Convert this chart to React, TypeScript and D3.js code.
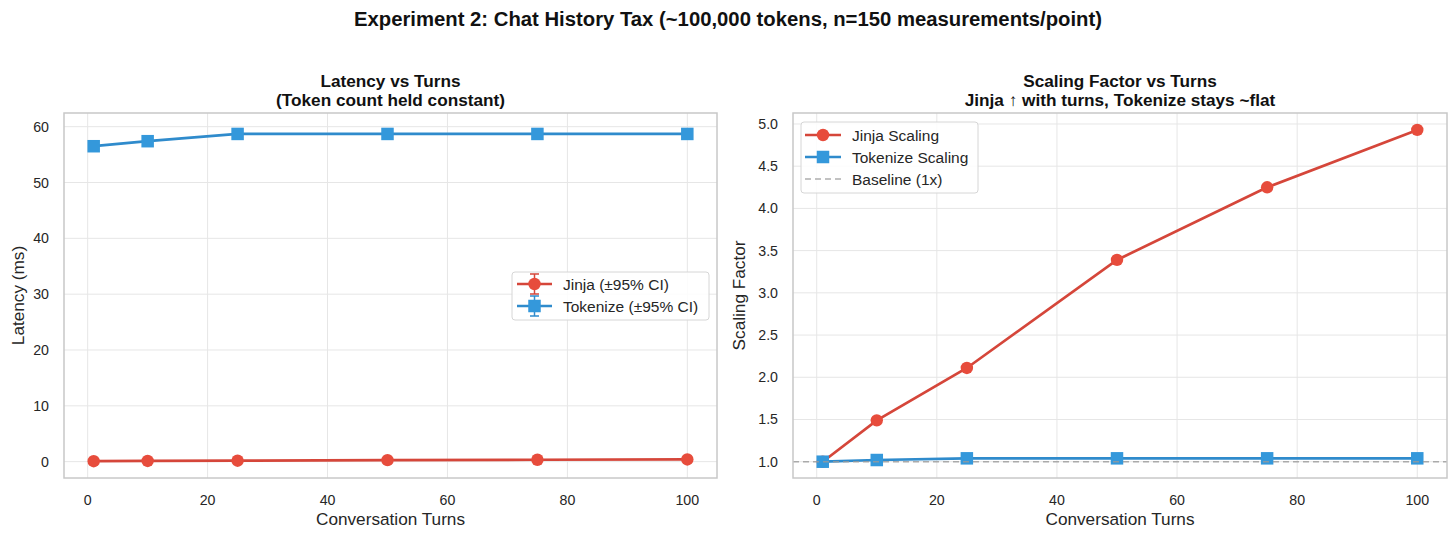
import React from "react";
import { scaleLinear, line } from "d3";

const turns = [1, 10, 25, 50, 75, 100];
const jinjaLatency = [0.08, 0.12, 0.17, 0.27, 0.34, 0.39];
const jinjaCI = [0.01, 0.01, 0.01, 0.02, 0.02, 0.02];
const tokenizeLatency = [56.5, 57.4, 58.7, 58.7, 58.7, 58.7];
const tokenizeCI = [0.3, 0.3, 0.3, 0.3, 0.3, 0.3];
const jinjaScaling = [1.0, 1.49, 2.11, 3.39, 4.25, 4.93];
const tokenizeScaling = [1.0, 1.02, 1.04, 1.04, 1.04, 1.04];

const xTicks = [0, 20, 40, 60, 80, 100];
const latencyTicks = [0, 10, 20, 30, 40, 50, 60];
const scalingTicks = [1.0, 1.5, 2.0, 2.5, 3.0, 3.5, 4.0, 4.5, 5.0];

const RED = "#e74c3c";
const RED_LINE = "#d5463a";
const BLUE = "#3498db";
const BLUE_LINE = "#2f8bcc";
const FONT = "'Liberation Sans', Arial, Helvetica, sans-serif";
const TXT = "#262626";

const W = 1456;
const H = 538;
const top = 113;
const bottom = 478;
const LEG_FS = 15.5;

const Circle = ({ cx, cy, r = 6.2 }: { cx: number; cy: number; r?: number }) => (
  <circle cx={cx} cy={cy} r={r} fill={RED} />
);
const Square = ({ cx, cy, s = 12.5 }: { cx: number; cy: number; s?: number }) => (
  <rect x={cx - s / 2} y={cy - s / 2} width={s} height={s} fill={BLUE} />
);

interface PanelProps {
  left: number;
  right: number;
  yDomain: [number, number];
  yTicks: number[];
  yFmt: (v: number) => string;
  yLabel: string;
  yLabelX: number;
  title: [string, string];
  children: (x: any, y: any) => React.ReactNode;
}

const Panel: React.FC<PanelProps> = ({ left, right, yDomain, yTicks, yFmt, yLabel, yLabelX, title, children }) => {
  const x = scaleLinear().domain([-3.95, 104.95]).range([left, right]);
  const y = scaleLinear().domain(yDomain).range([bottom, top]);
  const cx = (left + right) / 2;
  return (
    <g>
      <text x={cx} y={87} textAnchor="middle" fontSize={17.2} fontWeight="bold" fill="#111" fontFamily={FONT}>
        {title[0]}
      </text>
      <text x={cx} y={105.5} textAnchor="middle" fontSize={17.2} fontWeight="bold" fill="#111" fontFamily={FONT}>
        {title[1]}
      </text>
      <rect x={left} y={top} width={right - left} height={bottom - top} fill="#fff" />
      {xTicks.map((t) => (
        <line key={"gx" + t} x1={x(t)} x2={x(t)} y1={top} y2={bottom} stroke="#e6e6e6" strokeWidth={1} />
      ))}
      {yTicks.map((t) => (
        <line key={"gy" + t} x1={left} x2={right} y1={y(t)} y2={y(t)} stroke="#e6e6e6" strokeWidth={1} />
      ))}
      {children(x, y)}
      <rect x={left} y={top} width={right - left} height={bottom - top} fill="none" stroke="#c8c8c8" strokeWidth={1.5} />
      {xTicks.map((t) => (
        <text key={"tx" + t} x={x(t)} y={504.5} textAnchor="middle" fontSize={14.2} fill={TXT} fontFamily={FONT}>
          {t}
        </text>
      ))}
      {yTicks.map((t) => (
        <text key={"ty" + t} x={left - 15} y={y(t) + 5} textAnchor="end" fontSize={14.2} fill={TXT} fontFamily={FONT}>
          {yFmt(t)}
        </text>
      ))}
      <text x={cx} y={524.5} textAnchor="middle" fontSize={17.2} fill={TXT} fontFamily={FONT}>
        Conversation Turns
      </text>
      <text
        transform={`translate(${yLabelX},${(top + bottom) / 2}) rotate(-90)`}
        textAnchor="middle"
        fontSize={17.2}
        fill={TXT}
        fontFamily={FONT}
      >
        {yLabel}
      </text>
    </g>
  );
};

const ErrBars = ({ x, y, vals, ci, color }: any) => (
  <g>
    {turns.map((t, i) => (
      <g key={i} stroke={color} strokeWidth={1.5}>
        <line x1={x(t)} x2={x(t)} y1={y(vals[i] - ci[i])} y2={y(vals[i] + ci[i])} />
        <line x1={x(t) - 4} x2={x(t) + 4} y1={y(vals[i] - ci[i])} y2={y(vals[i] - ci[i])} />
        <line x1={x(t) - 4} x2={x(t) + 4} y1={y(vals[i] + ci[i])} y2={y(vals[i] + ci[i])} />
      </g>
    ))}
  </g>
);

const App: React.FC = () => {
  const path = (x: any, y: any, vals: number[]) =>
    line<number>()
      .x((_, i) => x(turns[i]))
      .y((d) => y(d))(vals) || "";

  return (
    <svg width={W} height={H} style={{ position: "absolute", left: 0, top: 0, background: "#fff" }}>
      <text x={728} y={26} textAnchor="middle" fontSize={20.3} fontWeight="bold" fill="#111" fontFamily={FONT}>
        Experiment 2: Chat History Tax (~100,000 tokens, n=150 measurements/point)
      </text>

      <Panel
        left={64}
        right={717}
        yDomain={[-2.93, 62.45]}
        yTicks={latencyTicks}
        yFmt={(v) => String(v)}
        yLabel="Latency (ms)"
        yLabelX={24}
        title={["Latency vs Turns", "(Token count held constant)"]}
      >
        {(x, y) => (
          <g>
            <ErrBars x={x} y={y} vals={jinjaLatency} ci={jinjaCI} color={RED_LINE} />
            <path d={path(x, y, jinjaLatency)} fill="none" stroke={RED_LINE} strokeWidth={2.7} />
            {turns.map((t, i) => (
              <Circle key={i} cx={x(t)} cy={y(jinjaLatency[i])} />
            ))}
            <ErrBars x={x} y={y} vals={tokenizeLatency} ci={tokenizeCI} color={BLUE_LINE} />
            <path d={path(x, y, tokenizeLatency)} fill="none" stroke={BLUE_LINE} strokeWidth={2.7} />
            {turns.map((t, i) => (
              <Square key={i} cx={x(t)} cy={y(tokenizeLatency[i])} />
            ))}
            {/* legend */}
            <rect x={512} y={272} width={197} height={48} rx={3} fill="#fff" fillOpacity={0.85} stroke="#d6d6d6" strokeWidth={1} />
            <g stroke={RED_LINE} strokeWidth={2.7}>
              <line x1={517} x2={552} y1={284} y2={284} />
              <line x1={534.5} x2={534.5} y1={274} y2={294} strokeWidth={1.5} />
              <line x1={530} x2={539} y1={274} y2={274} strokeWidth={1.5} />
              <line x1={530} x2={539} y1={294} y2={294} strokeWidth={1.5} />
            </g>
            <Circle cx={534.5} cy={284} />
            <g stroke={BLUE_LINE} strokeWidth={2.7}>
              <line x1={517} x2={552} y1={306} y2={306} />
              <line x1={534.5} x2={534.5} y1={296} y2={316} strokeWidth={1.5} />
              <line x1={530} x2={539} y1={296} y2={296} strokeWidth={1.5} />
              <line x1={530} x2={539} y1={316} y2={316} strokeWidth={1.5} />
            </g>
            <Square cx={534.5} cy={306} />
            <text x={563} y={289.5} fontSize={LEG_FS} fill={TXT} fontFamily={FONT}>
              Jinja (±95% CI)
            </text>
            <text x={563} y={311.5} fontSize={LEG_FS} fill={TXT} fontFamily={FONT}>
              Tokenize (±95% CI)
            </text>
          </g>
        )}
      </Panel>

      <Panel
        left={793}
        right={1447}
        yDomain={[0.807, 5.13]}
        yTicks={scalingTicks}
        yFmt={(v) => v.toFixed(1)}
        yLabel="Scaling Factor"
        yLabelX={744.5}
        title={["Scaling Factor vs Turns", "Jinja \u2191 with turns, Tokenize stays ~flat"]}
      >
        {(x, y) => (
          <g>
            <path d={path(x, y, jinjaScaling)} fill="none" stroke={RED_LINE} strokeWidth={2.7} />
            {turns.map((t, i) => (
              <Circle key={i} cx={x(t)} cy={y(jinjaScaling[i])} />
            ))}
            <path d={path(x, y, tokenizeScaling)} fill="none" stroke={BLUE_LINE} strokeWidth={2.7} />
            {turns.map((t, i) => (
              <Square key={i} cx={x(t)} cy={y(tokenizeScaling[i])} />
            ))}
            <line x1={793} x2={1447} y1={y(1)} y2={y(1)} stroke="#9a9a9a" strokeOpacity={0.8} strokeWidth={1.6} strokeDasharray="6,4" />
            {/* legend */}
            <rect x={801} y={122} width={177} height={71} rx={3} fill="#fff" fillOpacity={0.85} stroke="#d6d6d6" strokeWidth={1} />
            <line x1={805} x2={841} y1={135} y2={135} stroke={RED_LINE} strokeWidth={2.7} />
            <Circle cx={823} cy={135} />
            <line x1={805} x2={841} y1={157} y2={157} stroke={BLUE_LINE} strokeWidth={2.7} />
            <Square cx={823} cy={157} />
            <line x1={805} x2={841} y1={179} y2={179} stroke="#9a9a9a" strokeOpacity={0.8} strokeWidth={1.6} strokeDasharray="6,4" />
            <text x={852} y={140.5} fontSize={LEG_FS} fill={TXT} fontFamily={FONT}>
              Jinja Scaling
            </text>
            <text x={852} y={162.5} fontSize={LEG_FS} fill={TXT} fontFamily={FONT}>
              Tokenize Scaling
            </text>
            <text x={852} y={184.5} fontSize={LEG_FS} fill={TXT} fontFamily={FONT}>
              Baseline (1x)
            </text>
          </g>
        )}
      </Panel>
    </svg>
  );
};

export default App;
